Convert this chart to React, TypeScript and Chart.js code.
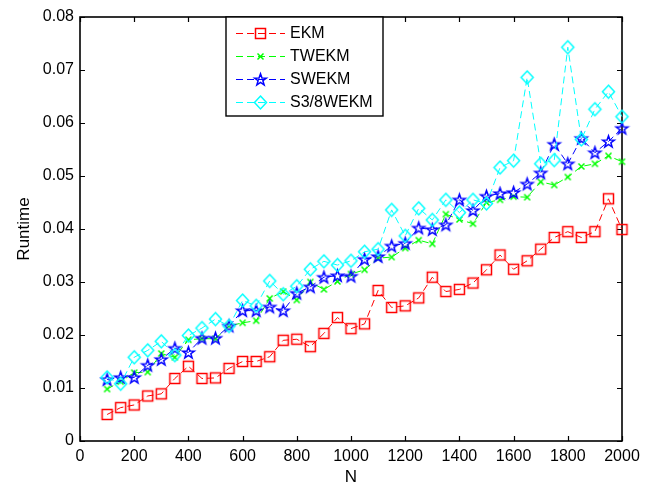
import React, { useEffect, useRef } from 'react';
import { Chart, registerables } from 'chart.js';

Chart.register(...registerables);

const N = [100, 150, 200, 250, 300, 350, 400, 450, 500, 550, 600, 650, 700, 750, 800, 850, 900, 950, 1000,
  1050, 1100, 1150, 1200, 1250, 1300, 1350, 1400, 1450, 1500, 1550, 1600, 1650, 1700, 1750, 1800, 1850, 1900, 1950, 2000];

const EKM = [0.0050, 0.0063, 0.0068, 0.0085, 0.0089, 0.0118, 0.0141, 0.0118, 0.0119, 0.0137, 0.0150, 0.0150, 0.0159,
  0.0190, 0.0192, 0.0178, 0.0203, 0.0233, 0.0212, 0.0221, 0.0284, 0.0252, 0.0255, 0.0270, 0.0309, 0.0282, 0.0286,
  0.0298, 0.0323, 0.0351, 0.0324, 0.0340, 0.0362, 0.0384, 0.0395, 0.0384, 0.0395, 0.0457, 0.0399];

const TWEKM = [0.0098, 0.0112, 0.0129, 0.0130, 0.0165, 0.0158, 0.0191, 0.0193, 0.0193, 0.0217, 0.0223, 0.0227, 0.0269,
  0.0282, 0.0266, 0.0300, 0.0286, 0.0301, 0.0315, 0.0323, 0.0345, 0.0347, 0.0364, 0.0379, 0.0372, 0.0428, 0.0418,
  0.0410, 0.0450, 0.0455, 0.0461, 0.0460, 0.0489, 0.0483, 0.0498, 0.0518, 0.0523, 0.0538, 0.0527];

const SWEKM = [0.0116, 0.0120, 0.0120, 0.0143, 0.0154, 0.0175, 0.0167, 0.0194, 0.0194, 0.0217, 0.0246, 0.0246, 0.0253,
  0.0246, 0.0279, 0.0291, 0.0309, 0.0312, 0.0311, 0.0343, 0.0348, 0.0368, 0.0373, 0.0402, 0.0399, 0.0408, 0.0455,
  0.0435, 0.0462, 0.0467, 0.0469, 0.0485, 0.0506, 0.0560, 0.0523, 0.0571, 0.0544, 0.0565, 0.0590];

const S38WEKM = [0.0120, 0.0108, 0.0158, 0.0171, 0.0188, 0.0162, 0.0199, 0.0213, 0.0230, 0.0217, 0.0265, 0.0255, 0.0302,
  0.0277, 0.0292, 0.0324, 0.0339, 0.0332, 0.0340, 0.0357, 0.0362, 0.0436, 0.0387, 0.0439, 0.0417, 0.0455, 0.0431,
  0.0455, 0.0448, 0.0516, 0.0529, 0.0686, 0.0523, 0.0530, 0.0743, 0.0569, 0.0626, 0.0659, 0.0612];

const SERIES_NAMES = ['EKM', 'TWEKM', 'SWEKM', 'S3/8WEKM'];
const SERIES_COLORS = ['#ff0000', '#00ff00', '#0000ff', '#00ffff'];
const SERIES_MARKERS = ['square', 'x', 'star', 'diamond'];
const X_TITLE = 'N';
const Y_TITLE = 'Runtime';

const FONT = "'Liberation Sans', Arial, Helvetica, sans-serif";

function makeMarker(kind: string, color: string): HTMLCanvasElement {
  const s = 17;
  const c = document.createElement('canvas');
  c.width = s;
  c.height = s;
  const g = c.getContext('2d')!;
  g.strokeStyle = color;
  g.lineWidth = 1.5;
  const m = s / 2;
  g.beginPath();
  if (kind === 'square') {
    g.rect(m - 5, m - 5, 10, 10);
  } else if (kind === 'x') {
    g.moveTo(m - 3, m - 3);
    g.lineTo(m + 3, m + 3);
    g.moveTo(m + 3, m - 3);
    g.lineTo(m - 3, m + 3);
  } else if (kind === 'diamond') {
    g.moveTo(m, m - 6.5);
    g.lineTo(m + 6, m);
    g.lineTo(m, m + 6.5);
    g.lineTo(m - 6, m);
    g.closePath();
  } else if (kind === 'star') {
    for (let i = 0; i < 10; i++) {
      const r = i % 2 ? 2.5 : 6.2;
      const a = -Math.PI / 2 + (i * Math.PI) / 5;
      const px = m + r * Math.cos(a);
      const py = m + 0.5 + r * Math.sin(a);
      if (i === 0) g.moveTo(px, py);
      else g.lineTo(px, py);
    }
    g.closePath();
  }
  g.stroke();
  return c;
}

export default function App() {
  const ref = useRef<HTMLCanvasElement | null>(null);

  useEffect(() => {
    document.body.style.margin = '0';
    const canvas = ref.current;
    if (!canvas) return;

    const markers = SERIES_MARKERS.map((k, i) => makeMarker(k, SERIES_COLORS[i]));
    const values = [EKM, TWEKM, SWEKM, S38WEKM];

    const framePlugin = {
      id: 'matlabFrame',
      beforeDatasetsDraw(chart: any) {
        const { ctx, chartArea, scales } = chart;
        const { left, right, top, bottom } = chartArea;
        const xs = scales.x;
        const ys = scales.y;
        ctx.save();
        ctx.strokeStyle = '#000';
        ctx.lineWidth = 1.2;
        ctx.beginPath();
        xs.ticks.forEach((t: any) => {
          const px = Math.round(xs.getPixelForValue(t.value)) + 0.5;
          ctx.moveTo(px, bottom);
          ctx.lineTo(px, bottom - 5);
          ctx.moveTo(px, top);
          ctx.lineTo(px, top + 5);
        });
        ys.ticks.forEach((t: any) => {
          const py = Math.round(ys.getPixelForValue(t.value)) + 0.5;
          ctx.moveTo(left, py);
          ctx.lineTo(left + 5, py);
          ctx.moveTo(right, py);
          ctx.lineTo(right - 5, py);
        });
        ctx.stroke();
        ctx.lineWidth = 1.6;
        ctx.strokeRect(left, top, right - left, bottom - top);
        ctx.restore();
      },
      afterDatasetsDraw(chart: any) {
        const { ctx, chartArea } = chart;
        const bx = 226;
        const by = chartArea.top;
        const bw = 157;
        const bh = 99;
        ctx.save();
        ctx.fillStyle = '#fff';
        ctx.fillRect(bx, by, bw, bh);
        ctx.strokeStyle = '#000';
        ctx.lineWidth = 1.4;
        ctx.strokeRect(bx, by, bw, bh);
        SERIES_NAMES.forEach((name, i) => {
          const yy = by + 16.5 + i * 23;
          ctx.strokeStyle = SERIES_COLORS[i];
          ctx.lineWidth = 1;
          ctx.setLineDash([7, 4]);
          ctx.beginPath();
          ctx.moveTo(236, yy);
          ctx.lineTo(285, yy);
          ctx.stroke();
          ctx.setLineDash([]);
          const mk = markers[i];
          ctx.drawImage(mk, Math.round(260 - mk.width / 2), Math.round(yy - mk.height / 2));
          ctx.fillStyle = '#000';
          ctx.font = `16px ${FONT}`;
          ctx.textBaseline = 'middle';
          ctx.textAlign = 'left';
          ctx.fillText(name, 290, yy + 0.5);
        });
        ctx.restore();
      },
    };

    const chart = new Chart(canvas, {
      type: 'line',
      data: {
        datasets: SERIES_NAMES.map((name, i) => ({
          label: name,
          data: N.map((n, j) => ({ x: n, y: values[i][j] })),
          borderColor: SERIES_COLORS[i],
          backgroundColor: SERIES_COLORS[i],
          borderWidth: 1,
          borderDash: [7, 4],
          pointStyle: markers[i] as any,
          pointRadius: 5,
          pointHoverRadius: 5,
          fill: false,
          tension: 0,
          clip: false,
          order: 4 - i,
        })),
      },
      options: {
        animation: false,
        responsive: false,
        devicePixelRatio: 1,
        events: [],
        layout: { padding: { left: 0, top: 17, right: 26, bottom: 0 } },
        plugins: {
          legend: { display: false },
          tooltip: { enabled: false },
        },
        scales: {
          x: {
            type: 'linear',
            min: 0,
            max: 2000,
            grid: { display: false, drawTicks: false },
            border: { display: false },
            ticks: {
              stepSize: 200,
              color: '#000',
              padding: 6,
              maxRotation: 0,
              font: { family: FONT, size: 16 },
              callback: (v: any) => String(v),
            },
            title: {
              display: true,
              text: X_TITLE,
              color: '#000',
              font: { family: FONT, size: 17, lineHeight: 1 },
              padding: { top: 0, bottom: 0 },
            },
            afterFit: (s: any) => {
              s.height = 45;
            },
          },
          y: {
            type: 'linear',
            min: 0,
            max: 0.08,
            grid: { display: false, drawTicks: false },
            border: { display: false },
            ticks: {
              stepSize: 0.01,
              color: '#000',
              padding: 6,
              font: { family: FONT, size: 16 },
              callback: (v: any) => (Math.abs(v) < 1e-9 ? '0' : Number(v).toFixed(2)),
            },
            title: {
              display: true,
              text: Y_TITLE,
              color: '#000',
              font: { family: FONT, size: 17, lineHeight: 1 },
              padding: { top: 16, bottom: 0 },
            },
            afterFit: (s: any) => {
              s.width = 80;
            },
          },
        },
      },
      plugins: [framePlugin],
    });

    return () => {
      chart.destroy();
    };
  }, []);

  return <canvas ref={ref} width={648} height={486} style={{ display: 'block', width: 648, height: 486 }} />;
}
